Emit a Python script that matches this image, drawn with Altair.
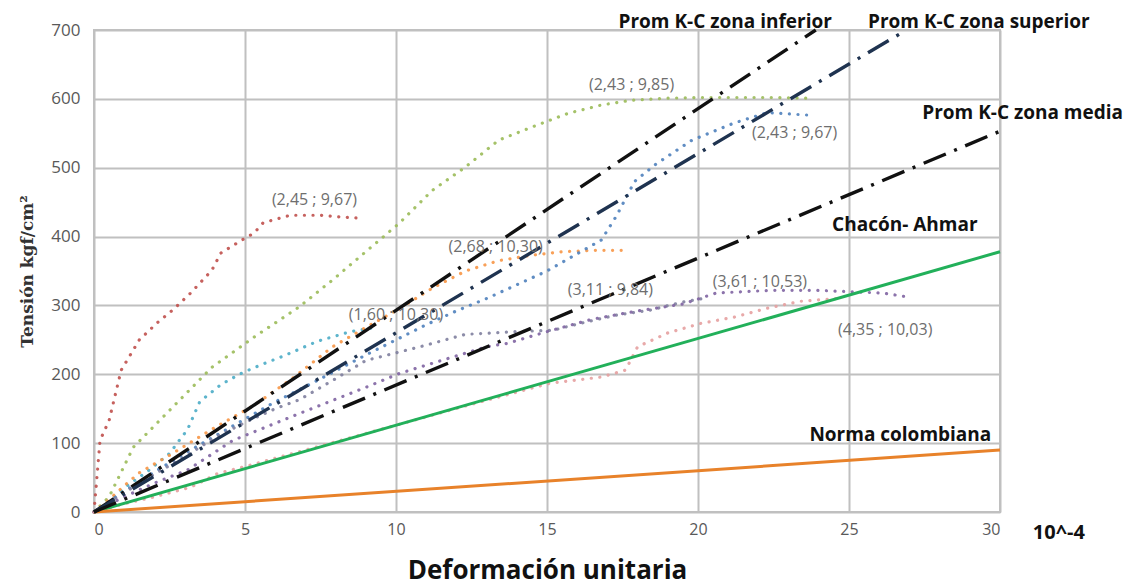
import altair as alt
import pandas as pd

# ---------------- data ----------------
# experimental curves (deformation x10^-4, stress kgf/cm2)
red_x = [0, 0.2, 0.5, 0.9, 1.5, 2.1, 2.6, 3.2, 3.9, 4.2, 4.9, 5.3, 5.6, 6.5, 7.5, 8.3, 8.7]
red_y = [0, 104, 133, 206, 250, 275, 293, 318, 351, 376, 395, 405, 420, 431, 431, 428, 427]

olive_x = [0, 0.5, 1.3, 2.6, 3.9, 5.3, 6.8, 7.9, 9.0, 10.1, 11.2, 12.3, 13.4, 14.5, 15.7, 16.8, 17.8, 19.0, 20.1, 21.3, 22.5, 23.6]
olive_y = [0, 22, 94, 152, 210, 254, 298, 337, 378, 419, 467, 501, 540, 559, 579, 591, 598, 601, 602, 602, 602, 601]

sky_x = [0, 0.5, 1.0, 1.8, 2.5, 3.1, 3.5, 4.2, 4.9, 5.6, 6.3, 7.4, 8.5, 9.3]
sky_y = [0, 15, 35, 60, 85, 120, 160, 185, 202, 215, 227, 248, 262, 268]

orange_x = [0, 0.5, 1.0, 1.5, 2.6, 3.9, 5.3, 6.6, 7.9, 9.0, 10.1, 11.2, 12.3, 13.4, 14.5, 15.5, 16.5, 17.5]
orange_y = [0, 18, 38, 57, 85, 120, 155, 195, 240, 268, 295, 325, 350, 365, 373, 378, 380, 380]

steel_x = [0, 1, 2, 3, 4, 5, 6, 7, 8, 9, 10, 11, 12, 13, 14, 15, 16, 16.8, 17.3, 17.9, 18.6, 19.8, 21.2, 22.3, 23.8]
steel_y = [0, 30, 58, 85, 110, 135, 160, 182, 205, 228, 250, 272, 292, 310, 330, 350, 375, 395, 430, 480, 505, 540, 565, 580, 576]

grey_x = [0, 1, 2, 3, 4, 5, 6, 6.8, 7.9, 9.0, 10.8, 12.3, 14.0, 15.2, 16.3, 17.3, 18.4, 19.5, 20.3]
grey_y = [0, 28, 55, 80, 108, 130, 150, 163, 191, 220, 240, 258, 262, 264, 276, 286, 293, 305, 311]

purple_x = [0, 1, 2, 3.1, 4.6, 6.8, 9.0, 10.1, 11.5, 13.0, 13.7, 15, 16.5, 18, 19.5, 20.6, 21.5, 22.5, 23.9, 25, 26.1, 27]
purple_y = [0, 22, 42, 61, 104, 143, 181, 201, 220, 240, 245, 262, 280, 292, 302, 318, 320, 322, 322, 320, 318, 312]

pink_x = [0, 1, 2, 3.2, 4.1, 5, 6, 7, 8, 9, 10, 11, 11.8, 13.4, 15.1, 16.8, 17.6, 18.0, 19.0, 20.1, 21.2, 22.3, 23.4, 24.6]
pink_y = [0, 12, 22, 36, 56, 66, 78, 90, 102, 114, 126, 138, 148, 167, 187, 196, 206, 240, 260, 274, 283, 296, 306, 310]

series_names = ["rojo", "oliva", "celeste", "naranja", "azul", "gris", "morado", "rosa"]
series_x = [red_x, olive_x, sky_x, orange_x, steel_x, grey_x, purple_x, pink_x]
series_y = [red_y, olive_y, sky_y, orange_y, steel_y, grey_y, purple_y, pink_y]
series_colors = ["#C0504D", "#9BBB59", "#4BACC6", "#F79646", "#4F81BD", "#7F7F9F", "#8064A2", "#E6A0A0"]

# reference straight lines
ref_names = ["Prom K-C zona inferior", "Prom K-C zona superior", "Prom K-C zona media"]
ref_x_end = [23.9, 26.9, 30]
ref_y_end = [700, 700, 553]
ref_colors = ["#111111", "#1F3350", "#111111"]

solid_names = ["Chacón- Ahmar", "Norma colombiana"]
solid_x_end = [30, 30]
solid_y_end = [378, 90]
solid_colors = ["#22B05A", "#E8822A"]

# line labels
lab_text = ["Prom K-C zona inferior", "Prom K-C zona superior", "Prom K-C zona media", "Chacón- Ahmar", "Norma colombiana"]
lab_x = [20.9, 29.3, 30.75, 26.85, 26.7]
lab_y = [711, 711, 580, 417, 112]

# point annotations
ann_text = ["(2,45 ; 9,67)", "(2,43 ; 9,85)", "(2,43 ; 9,67)", "(2,68 ; 10,30)", "(1,60 ; 10,30)",
            "(3,11 ; 9,84)", "(3,61 ; 10,53)", "(4,35 ; 10,03)"]
ann_x = [7.3, 17.8, 23.2, 13.3, 10.0, 17.1, 22.05, 26.2]
ann_y = [453, 620, 550, 385, 286, 322, 334, 264]

x_ticks = [0, 5, 10, 15, 20, 25, 30]
y_ticks = [0, 100, 200, 300, 400, 500, 600, 700]

# ---------------- tables ----------------
rows = []
for n, xs_, ys_ in zip(series_names, series_x, series_y):
    for i, (a, b) in enumerate(zip(xs_, ys_)):
        rows.append({"serie": n, "x": a, "y": b, "o": i})
exp_df = pd.DataFrame(rows)

ref_rows = []
for n, xe, ye in zip(ref_names, ref_x_end, ref_y_end):
    ref_rows.append({"serie": n, "x": 0, "y": 0, "o": 0})
    ref_rows.append({"serie": n, "x": xe, "y": ye, "o": 1})
ref_df = pd.DataFrame(ref_rows)

sol_rows = []
for n, xe, ye in zip(solid_names, solid_x_end, solid_y_end):
    sol_rows.append({"serie": n, "x": 0, "y": 0, "o": 0})
    sol_rows.append({"serie": n, "x": xe, "y": ye, "o": 1})
sol_df = pd.DataFrame(sol_rows)

lab_df = pd.DataFrame({"t": lab_text, "x": lab_x, "y": lab_y})
ann_df = pd.DataFrame({"t": ann_text, "x": ann_x, "y": ann_y})
extra_df = pd.DataFrame({"t": ["10^-4"], "x": [31.95], "y": [-30]})

FONT = "Open Sans"

xs = alt.Scale(domain=[0, 30], nice=False, zero=False)
ys = alt.Scale(domain=[0, 700], nice=False, zero=False)

x_enc = alt.X("x:Q", scale=xs, axis=alt.Axis(
    values=x_ticks, title="Deformación unitaria", grid=True, ticks=False, domain=False,
    labelFont=FONT, labelFontSize=16, labelColor="#595959", labelPadding=9,
    titleFont=FONT, titleFontSize=26, titleFontWeight="bold", titleColor="#111111",
    titlePadding=20, gridColor="#C0C0C0", gridWidth=2))
y_enc = alt.Y("y:Q", scale=ys, axis=alt.Axis(
    values=y_ticks, title="Tensión kgf/cm²", grid=True, ticks=False, domain=False,
    labelFont=FONT, labelFontSize=17, labelColor="#595959", labelPadding=14,
    titleFont="DejaVu Serif", titleFontSize=17, titleFontWeight="bold", titleColor="#333333",
    titlePadding=14, gridColor="#C0C0C0", gridWidth=2))

exp_layer = alt.Chart(exp_df).mark_line(
    strokeWidth=3.2, strokeDash=[0.1, 8.5], strokeCap="round", opacity=0.9
).encode(
    x=x_enc, y=y_enc, order="o:Q",
    color=alt.Color("serie:N", scale=alt.Scale(domain=series_names, range=series_colors), legend=None),
)

sol_layer = alt.Chart(sol_df).mark_line(strokeWidth=3).encode(
    x="x:Q", y="y:Q", order="o:Q",
    color=alt.Color("serie:N", scale=alt.Scale(domain=solid_names, range=solid_colors), legend=None),
)

ref_layer = alt.Chart(ref_df).mark_line(
    strokeWidth=3.4, strokeDash=[24, 9, 3, 9]
).encode(
    x="x:Q", y="y:Q", order="o:Q",
    color=alt.Color("serie:N", scale=alt.Scale(domain=ref_names, range=ref_colors), legend=None),
)

lab_layer = alt.Chart(lab_df).mark_text(
    font=FONT, fontSize=19, fontWeight="bold", color="#111111", align="center", baseline="middle"
).encode(x="x:Q", y="y:Q", text="t:N")

ann_layer = alt.Chart(ann_df).mark_text(
    font=FONT, fontSize=16, color="#6E6E6E", align="center", baseline="middle"
).encode(x="x:Q", y="y:Q", text="t:N")

extra_layer = alt.Chart(extra_df).mark_text(
    font=FONT, fontSize=20, fontWeight="bold", color="#111111", align="center", baseline="middle"
).encode(x="x:Q", y="y:Q", text="t:N")

chart = alt.layer(exp_layer, sol_layer, ref_layer, lab_layer, ann_layer, extra_layer).resolve_scale(
    color="independent"
).properties(
    width=906, height=482,
    autosize=alt.AutoSizeParams(type="none"),
    padding={"left": 86, "top": 22, "right": 124, "bottom": 74},
    background="white",
).configure_view(stroke="#C0C0C0", strokeWidth=2)

chart.save("out.html", embed_options={"renderer": "svg", "actions": False})
